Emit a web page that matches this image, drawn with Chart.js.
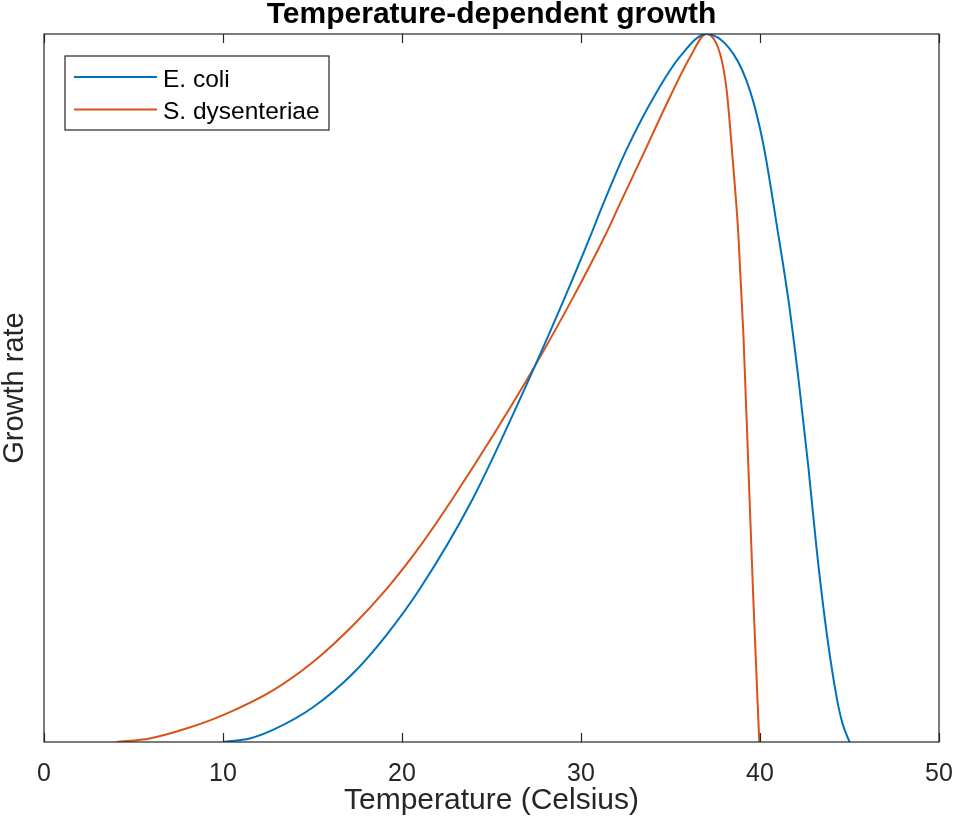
<!DOCTYPE html>
<html>
<head>
<meta charset="utf-8">
<script src="https://cdn.jsdelivr.net/npm/chart.js@4.4.1/dist/chart.umd.min.js"></script>
<style>
  html, body { margin: 0; padding: 0; background: #fff; }
  #wrap { width: 957px; height: 831px; position: relative; }
</style>
</head>
<body>
<div id="wrap"><canvas id="growth"></canvas></div>
<script>
// values (growth rate normalised to the optimum)
const ecoliTemp = [10, 11.49, 12.79, 15.03, 17.27, 19.13, 20.99, 23.88, 27.14, 29.2, 30.5, 31.24, 32.55, 34.23, 35.53, 37, 38.51, 39.44, 40.18, 41.02, 41.59, 42.18, 42.7, 43.17, 43.73, 44.29, 44.6, 45];
const ecoliRate = [0, 0.005, 0.017, 0.049, 0.097, 0.151, 0.216, 0.34, 0.515, 0.634, 0.713, 0.76, 0.837, 0.918, 0.968, 1, 0.972, 0.92, 0.845, 0.717, 0.624, 0.506, 0.389, 0.271, 0.153, 0.062, 0.027, 0];

const shigTemp = [4.04, 5.9, 7.95, 10, 12.79, 15.03, 17.27, 19.13, 20.99, 22.86, 26.96, 29.56, 31.34, 32.17, 33.29, 34.97, 36.09, 37, 37.77, 38.14, 38.51, 38.66, 38.79, 39.07, 39.35, 39.63, 39.96];
const shigRate = [0, 0.005, 0.019, 0.038, 0.073, 0.113, 0.165, 0.216, 0.276, 0.345, 0.511, 0.628, 0.715, 0.76, 0.82, 0.911, 0.967, 1, 0.972, 0.92, 0.812, 0.765, 0.717, 0.577, 0.389, 0.2, 0];

const seriesNames = ['E. coli', 'S. dysenteriae'];
const seriesColors = ['#0072BD', '#D95319'];
const xTicks = [0, 10, 20, 30, 40, 50];

const axisColor = '#262626';
const fontFamily = 'Arial, "Liberation Sans", Helvetica, sans-serif';

function toPoints(xs, ys) {
  return xs.map((x, i) => ({ x: x, y: ys[i] }));
}

// box round the axes with inward ticks, like matlab draws it
const axesBox = {
  id: 'axesBox',
  afterDatasetsDraw(chart) {
    const { ctx, chartArea: a } = chart;
    const xs = chart.scales.x;
    ctx.save();
    ctx.strokeStyle = axisColor;
    ctx.lineWidth = 1.2;
    ctx.strokeRect(a.left, a.top, a.right - a.left, a.bottom - a.top);
    ctx.beginPath();
    xTicks.forEach(v => {
      const px = Math.round(xs.getPixelForValue(v)) + 0.5;
      ctx.moveTo(px, a.bottom);
      ctx.lineTo(px, a.bottom - 9);
      ctx.moveTo(px, a.top);
      ctx.lineTo(px, a.top + 9);
    });
    ctx.stroke();
    ctx.restore();
  }
};

// boxed legend in the upper left corner
const boxLegend = {
  id: 'boxLegend',
  afterDraw(chart) {
    const { ctx, chartArea: a } = chart;
    const left = a.left + 21, top = a.top + 22;
    const w = 264, h = 74;
    ctx.save();
    ctx.fillStyle = '#fff';
    ctx.fillRect(left, top, w, h);
    ctx.strokeStyle = axisColor;
    ctx.lineWidth = 1.2;
    ctx.strokeRect(left, top, w, h);
    ctx.font = '24.5px ' + fontFamily;
    ctx.textBaseline = 'middle';
    ctx.textAlign = 'left';
    chart.data.datasets.forEach((ds, i) => {
      const y = top + 21 + i * 32.6;
      ctx.strokeStyle = ds.borderColor;
      ctx.lineWidth = 2;
      ctx.beginPath();
      ctx.moveTo(left + 9, y);
      ctx.lineTo(left + 92, y);
      ctx.stroke();
      ctx.fillStyle = '#000';
      ctx.fillText(ds.label, left + 98, y + 3);
    });
    ctx.restore();
  }
};

new Chart(document.getElementById('growth'), {
  type: 'line',
  data: {
    datasets: [
      {
        label: seriesNames[0],
        data: toPoints(ecoliTemp, ecoliRate),
        borderColor: seriesColors[0],
        borderWidth: 2,
        pointRadius: 0,
        fill: false,
        cubicInterpolationMode: 'monotone'
      },
      {
        label: seriesNames[1],
        data: toPoints(shigTemp, shigRate),
        borderColor: seriesColors[1],
        borderWidth: 2,
        pointRadius: 0,
        fill: false,
        cubicInterpolationMode: 'monotone'
      }
    ]
  },
  options: {
    responsive: true,
    maintainAspectRatio: false,
    animation: false,
    layout: { padding: { left: 0, right: 18, top: 0, bottom: 0 } },
    plugins: {
      legend: { display: false },
      tooltip: { enabled: false },
      title: {
        display: true,
        text: 'Temperature-dependent growth',
        fullSize: false,
        color: '#000',
        font: { family: fontFamily, size: 30, weight: 'bold', lineHeight: 1 },
        padding: { top: 0, bottom: 4 }
      }
    },
    scales: {
      x: {
        type: 'linear',
        min: 0,
        max: 50,
        afterFit: (s) => {
          s.height = 89;
          // the end labels may hang over the box, as in the original
          s.paddingLeft = 0;
          s.paddingRight = 0;
        },
        afterBuildTicks: (s) => { s.ticks = xTicks.map(v => ({ value: v })); },
        grid: { display: false, drawTicks: false },
        border: { display: false },
        ticks: {
          color: axisColor,
          padding: 17,
          maxRotation: 0,
          font: { family: fontFamily, size: 25 }
        },
        title: {
          display: true,
          text: 'Temperature (Celsius)',
          color: axisColor,
          font: { family: fontFamily, size: 30 },
          padding: { top: 0, bottom: 12 }
        }
      },
      y: {
        min: 0,
        max: 1,
        afterFit: (s) => { s.width = 44; },
        grid: { display: false, drawTicks: false },
        border: { display: false },
        ticks: { display: false },
        title: {
          display: true,
          text: 'Growth rate',
          color: axisColor,
          font: { family: fontFamily, size: 29, lineHeight: 1 },
          padding: { top: 0, bottom: 0 }
        }
      }
    }
  },
  plugins: [axesBox, boxLegend]
});
</script>
</body>
</html>
